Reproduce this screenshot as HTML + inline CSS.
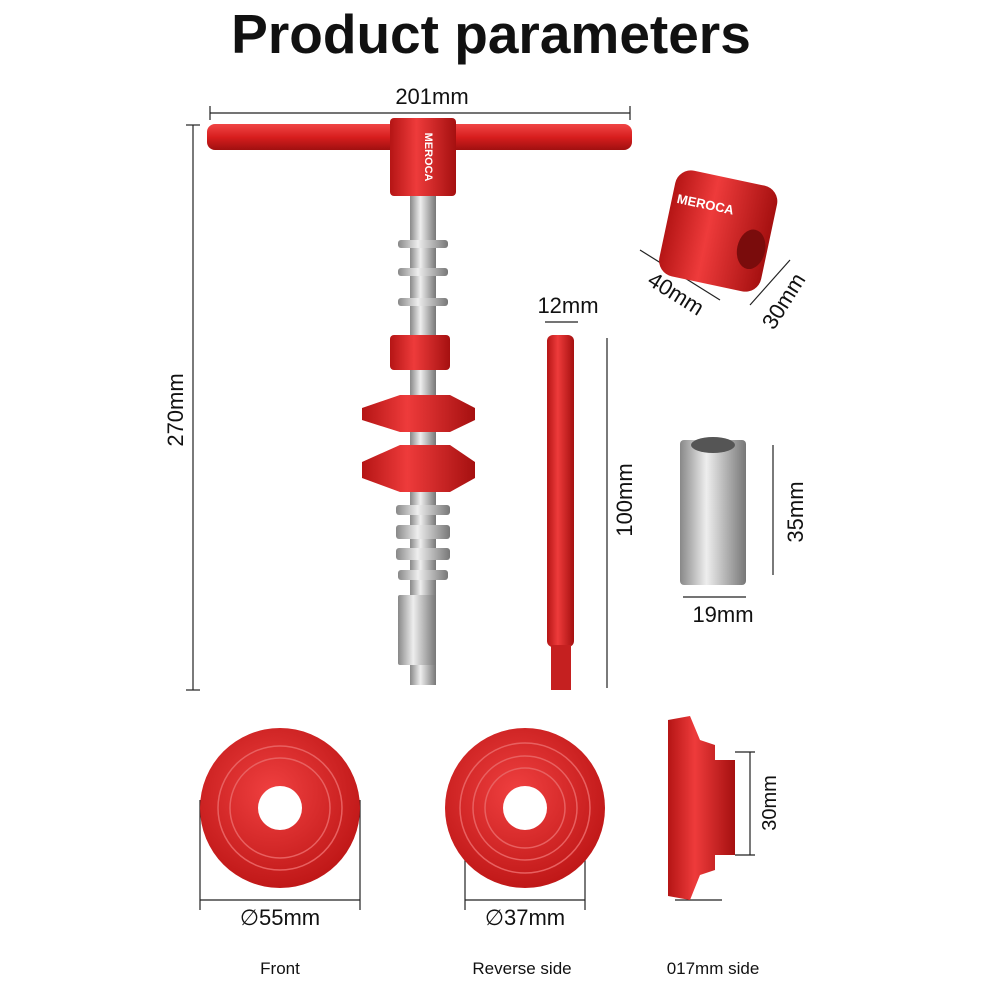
<!DOCTYPE html>
<html><head><meta charset="utf-8"><style>
html,body{margin:0;padding:0;background:#fff;}
svg{display:block;}
text{font-family:"Liberation Sans",sans-serif;fill:#111;}
</style></head><body>
<svg width="1000" height="1000" viewBox="0 0 1000 1000" xmlns="http://www.w3.org/2000/svg">
<defs>
<linearGradient id="rv" x1="0" x2="0" y1="0" y2="1"><stop offset="0" stop-color="#f04545"/><stop offset="0.5" stop-color="#d81e1e"/><stop offset="1" stop-color="#a01010"/></linearGradient>
<linearGradient id="rh" x1="0" x2="1" y1="0" y2="0"><stop offset="0" stop-color="#b51515"/><stop offset="0.4" stop-color="#ee3b3b"/><stop offset="1" stop-color="#a51010"/></linearGradient>
<linearGradient id="gh" x1="0" x2="1" y1="0" y2="0"><stop offset="0" stop-color="#888"/><stop offset="0.4" stop-color="#eee"/><stop offset="1" stop-color="#777"/></linearGradient>
<radialGradient id="rd" cx="0.45" cy="0.4" r="0.6"><stop offset="0" stop-color="#f04040"/><stop offset="1" stop-color="#c01818"/></radialGradient>
</defs>
<text x="491" y="53" font-size="55" font-weight="bold" text-anchor="middle">Product parameters</text>
<g stroke="#222" stroke-width="1.2">
<line x1="210" y1="113" x2="630" y2="113"/><line x1="210" y1="106" x2="210" y2="120"/><line x1="630" y1="106" x2="630" y2="120"/>
<line x1="193" y1="125" x2="193" y2="690"/><line x1="186" y1="125" x2="200" y2="125"/><line x1="186" y1="690" x2="200" y2="690"/>
<line x1="545" y1="322" x2="578" y2="322"/>
<line x1="607" y1="338" x2="607" y2="688"/>
<line x1="773" y1="445" x2="773" y2="575"/>
<line x1="683" y1="597" x2="746" y2="597"/>
<line x1="200" y1="900" x2="360" y2="900"/><line x1="200" y1="800" x2="200" y2="910"/><line x1="360" y1="800" x2="360" y2="910"/>
<line x1="465" y1="900" x2="585" y2="900"/><line x1="465" y1="800" x2="465" y2="910"/><line x1="585" y1="800" x2="585" y2="910"/>
<line x1="675" y1="900" x2="722" y2="900"/>
<line x1="750" y1="752" x2="750" y2="855"/><line x1="735" y1="752" x2="755" y2="752"/><line x1="735" y1="855" x2="755" y2="855"/>
<line x1="640" y1="250" x2="720" y2="300"/><line x1="750" y1="305" x2="790" y2="260"/>
</g>
<text x="432" y="104" font-size="22" text-anchor="middle">201mm</text>
<text transform="translate(183,410) rotate(-90)" font-size="22" text-anchor="middle">270mm</text>
<text x="568" y="313" font-size="22" text-anchor="middle">12mm</text>
<text transform="translate(632,500) rotate(-90)" font-size="22" text-anchor="middle">100mm</text>
<text transform="translate(803,512) rotate(-90)" font-size="22" text-anchor="middle">35mm</text>
<text x="723" y="622" font-size="22" text-anchor="middle">19mm</text>
<text transform="translate(672,300) rotate(32)" font-size="22" text-anchor="middle">40mm</text>
<text transform="translate(790,305) rotate(-58)" font-size="22" text-anchor="middle">30mm</text>
<text x="280" y="925" font-size="22" text-anchor="middle">∅55mm</text>
<text x="525" y="925" font-size="22" text-anchor="middle">∅37mm</text>
<text transform="translate(776,803) rotate(-90)" font-size="20" text-anchor="middle">30mm</text>
<text x="280" y="974" font-size="17" text-anchor="middle">Front</text>
<text x="522" y="974" font-size="17" text-anchor="middle">Reverse side</text>
<text x="713" y="974" font-size="17" text-anchor="middle">017mm side</text>
<rect x="410" y="195" width="26" height="490" fill="url(#gh)"/>
<rect x="207" y="124" width="425" height="26" rx="8" fill="url(#rv)"/>
<rect x="390" y="118" width="66" height="78" rx="4" fill="url(#rh)"/>
<text transform="translate(425,157) rotate(90)" font-size="11" font-weight="bold" style="fill:#fff" text-anchor="middle">MEROCA</text>
<g fill="url(#gh)">
<rect x="398" y="240" width="50" height="8" rx="3"/><rect x="398" y="268" width="50" height="8" rx="3"/><rect x="398" y="298" width="50" height="8" rx="3"/>
<rect x="396" y="505" width="54" height="10" rx="3"/><rect x="396" y="525" width="54" height="14" rx="3"/><rect x="396" y="548" width="54" height="12" rx="3"/><rect x="398" y="570" width="50" height="10" rx="3"/>
<rect x="398" y="595" width="38" height="70" rx="2"/>
<rect x="680" y="440" width="66" height="145" rx="4"/>
</g>
<ellipse cx="713" cy="445" rx="22" ry="8" fill="#555"/>
<rect x="390" y="335" width="60" height="35" rx="4" fill="url(#rh)"/>
<path d="M400 395 L450 395 L475 408 L475 420 L450 432 L400 432 L362 420 L362 408 Z" fill="url(#rh)"/>
<path d="M400 445 L450 445 L475 462 L475 478 L450 492 L400 492 L362 478 L362 462 Z" fill="url(#rh)"/>
<rect x="547" y="335" width="27" height="312" rx="6" fill="url(#rh)"/>
<rect x="551" y="645" width="20" height="45" fill="#c52020"/>
<g transform="translate(718,232) rotate(12)">
<rect x="-52" y="-55" width="104" height="108" rx="16" fill="url(#rh)"/>
<ellipse cx="36" cy="10" rx="14" ry="20" fill="#7a0c0c"/>
<text x="-18" y="-20" font-size="13" font-weight="bold" style="fill:#fff" text-anchor="middle">MEROCA</text>
</g>
<circle cx="280" cy="808" r="80" fill="url(#rd)"/>
<circle cx="280" cy="808" r="62" fill="none" stroke="#e86060" stroke-width="1.5"/>
<circle cx="280" cy="808" r="50" fill="none" stroke="#e86060" stroke-width="1.5"/>
<circle cx="280" cy="808" r="22" fill="#fff"/>
<circle cx="525" cy="808" r="80" fill="url(#rd)"/>
<circle cx="525" cy="808" r="65" fill="none" stroke="#e86060" stroke-width="1.5"/>
<circle cx="525" cy="808" r="52" fill="none" stroke="#e86060" stroke-width="1.5"/>
<circle cx="525" cy="808" r="40" fill="none" stroke="#e86060" stroke-width="1.5"/>
<circle cx="525" cy="808" r="22" fill="#fff"/>
<path d="M668 720 L690 716 L700 740 L715 745 L715 760 L735 760 L735 855 L715 855 L715 870 L700 875 L690 900 L668 896 Z" fill="url(#rh)"/>
</svg>
</body></html>
